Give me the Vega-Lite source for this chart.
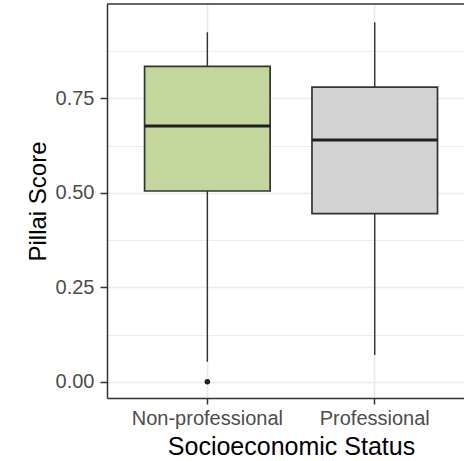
{
  "$schema": "https://vega.github.io/schema/vega-lite/v6.json",
  "autosize": "none",
  "width": 357,
  "height": 394,
  "padding": {"left": 107, "top": 4, "right": 0, "bottom": 63},
  "background": "white",
  "config": {
    "view": {"stroke": null},
    "font": "Liberation Sans"
  },
  "datasets": {
    "summary": [
      {"status": "Non-professional", "lower": 0.053, "q1": 0.505, "median": 0.677, "q3": 0.835, "upper": 0.925},
      {"status": "Professional", "lower": 0.071, "q1": 0.445, "median": 0.640, "q3": 0.780, "upper": 0.952}
    ],
    "outliers": [
      {"status": "Non-professional", "value": 0.0}
    ]
  },
  "layer": [
    {
      "encoding": {
        "x": {
          "field": "status",
          "type": "nominal",
          "sort": ["Non-professional", "Professional"],
          "scale": {
            "type": "band",
            "domain": ["Non-professional", "Professional"],
            "paddingInner": 0,
            "paddingOuter": 0.0663,
            "align": 0.75
          },
          "axis": {
            "title": "Socioeconomic Status",
            "labelAngle": 0,
            "bandPosition": 0.5,
            "labelFont": "Liberation Sans",
            "labelFontSize": 20,
            "labelColor": "#4D4D4D",
            "labelPadding": 4,
            "tickSize": 6,
            "tickWidth": 1.5,
            "tickColor": "#333333",
            "grid": true,
            "gridColor": "#EBEBEB",
            "gridWidth": 1.7,
            "domain": true,
            "domainColor": "#333333",
            "domainWidth": 1.5,
            "titleFont": "Liberation Sans",
            "titleFontSize": 25,
            "titleFontWeight": "normal",
            "titleColor": "#000000",
            "titlePadding": 6,
            "titleX": 184
          }
        }
      },
      "layer": [
        {
          "data": {"name": "summary"},
          "mark": {"type": "rule", "color": "#333333", "strokeWidth": 1.4},
          "encoding": {
            "y": {
              "field": "lower",
              "type": "quantitative",
              "title": "Pillai Score",
              "scale": {"domain": [-0.043, 1.0], "nice": false, "zero": false},
              "axis": {
                "values": [0, 0.125, 0.25, 0.375, 0.5, 0.625, 0.75, 0.875],
                "labelExpr": "datum.value % 0.25 == 0 ? format(datum.value, '.2f') : ''",
                "labelOverlap": false,
                "labelFont": "Liberation Sans",
                "labelFontSize": 20,
                "labelColor": "#4D4D4D",
                "labelPadding": 6,
                "tickSize": 7,
                "tickColor": "#333333",
                "tickWidth": 1.5,
                "tickOpacity": {"condition": {"test": "datum.value % 0.25 == 0", "value": 1}, "value": 0},
                "grid": true,
                "gridColor": "#EBEBEB",
                "gridWidth": {"condition": {"test": "datum.value % 0.25 == 0", "value": 1.7}, "value": 0.9},
                "domain": true,
                "domainColor": "#333333",
                "domainWidth": 1.5,
                "titleFont": "Liberation Sans",
                "titleFontSize": 24,
                "titleFontWeight": "normal",
                "titleColor": "#000000",
                "titlePadding": 5
              }
            },
            "y2": {"field": "upper"}
          }
        },
        {
          "data": {"name": "summary"},
          "mark": {"type": "bar", "width": {"band": 0.75}, "stroke": "#333333", "strokeWidth": 1.7},
          "encoding": {
            "y": {"field": "q1", "type": "quantitative", "title": "Pillai Score"},
            "y2": {"field": "q3"},
            "fill": {
              "field": "status",
              "type": "nominal",
              "scale": {"domain": ["Non-professional", "Professional"], "range": ["#C3D69B", "#D3D3D3"]},
              "legend": null
            }
          }
        },
        {
          "data": {"name": "summary"},
          "mark": {"type": "tick", "color": "#1F1F1F", "size": 125.6, "thickness": 2.8, "opacity": 1},
          "encoding": {
            "y": {"field": "median", "type": "quantitative", "title": "Pillai Score"}
          }
        },
        {
          "data": {"name": "outliers"},
          "mark": {"type": "point", "filled": true, "color": "#1F1F1F", "size": 30, "opacity": 1},
          "encoding": {
            "y": {"field": "value", "type": "quantitative", "title": "Pillai Score"}
          }
        }
      ]
    },
    {
      "data": {"values": [{}]},
      "mark": {"type": "rule", "color": "#333333", "strokeWidth": 1.5},
      "encoding": {
        "y": {"datum": 1.0, "type": "quantitative", "title": "Pillai Score"}
      }
    }
  ]
}
